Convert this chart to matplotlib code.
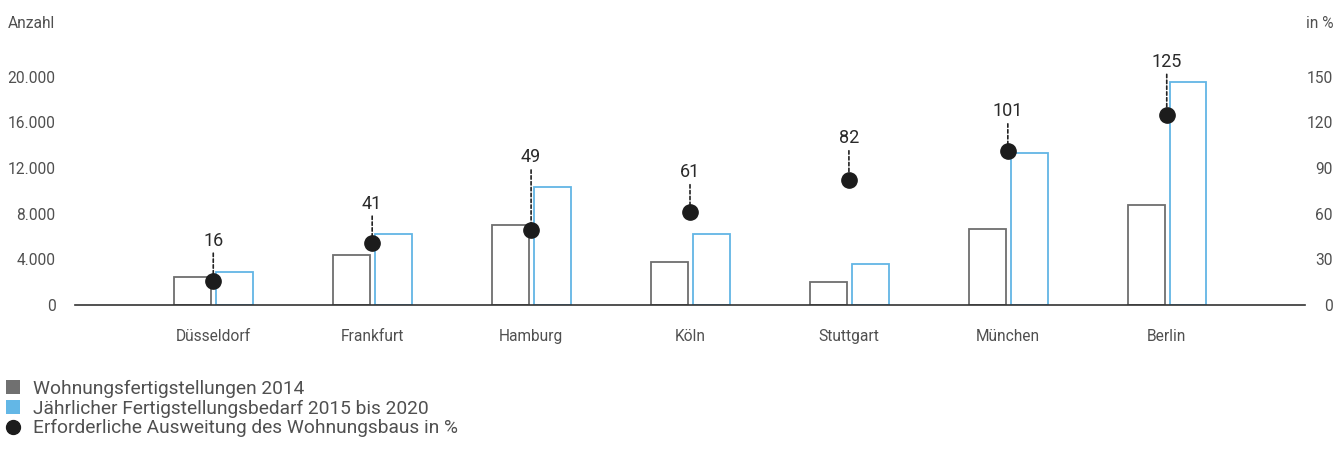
import numpy as np
import matplotlib.pyplot as plt
from matplotlib.lines import Line2D
from matplotlib.patches import Patch

plt.rcParams['font.family'] = ['Roboto', 'DejaVu Sans']

staedte = ['Düsseldorf', 'Frankfurt', 'Hamburg', 'Köln', 'Stuttgart', 'München', 'Berlin']
fertig_2014 = [2450, 4400, 7000, 3800, 2050, 6700, 8800]
bedarf_2015_2020 = [2900, 6200, 10350, 6200, 3550, 13350, 19550]
ausweitung = [16, 41, 49, 61, 82, 101, 125]

# Abstand der Beschriftung über dem Punkt (Pixel)
label_offset = [40, 39, 73, 40, 42, 40, 53]

grau = '#6e6e6e'
blau = '#62b5e5'
text_farbe = '#505050'

fig = plt.figure(figsize=(13.35, 4.59), dpi=100)
ax = fig.add_axes([75 / 1335, 1 - 305 / 459, 1230 / 1335, 251 / 459])

x = np.arange(len(staedte))
breite = 0.232
ax.bar(x - 0.013 - breite / 2, fertig_2014, width=breite, facecolor='white',
       edgecolor=grau, linewidth=1.3)
ax.bar(x + 0.018 + breite / 2, bedarf_2015_2020, width=breite, facecolor='white',
       edgecolor=blau, linewidth=1.3)

ax.set_xlim(-0.87, 6.87)
ax.set_ylim(0, 22000)
ax.set_yticks([0, 4000, 8000, 12000, 16000, 20000])
ax.set_yticklabels(['0', '4.000', '8.000', '12.000', '16.000', '20.000'])
ax.set_xticks(x)
ax.set_xticklabels(staedte)
ax.tick_params(axis='both', length=0, labelsize=11.2, labelcolor=text_farbe)
ax.tick_params(axis='y', pad=14)
ax.tick_params(axis='x', pad=17)
for s in ['top', 'left', 'right']:
    ax.spines[s].set_visible(False)
ax.spines['bottom'].set_color('#333333')
ax.spines['bottom'].set_linewidth(1.2)

ax2 = ax.twinx()
ax2.set_ylim(0, 165)
ax2.set_yticks([0, 30, 60, 90, 120, 150])
ax2.tick_params(axis='y', length=0, labelsize=11.2, labelcolor=text_farbe, pad=20)
for lbl in ax2.get_yticklabels():
    lbl.set_horizontalalignment('right')
for s in ['top', 'left', 'right', 'bottom']:
    ax2.spines[s].set_visible(False)

ax2.plot(x, ausweitung, 'o', color='#1c1c1c', markersize=11, zorder=5)
for xi, wert, off in zip(x, ausweitung, label_offset):
    ax2.annotate(str(wert), xy=(xi, wert), xytext=(0, off * 0.72),
                 textcoords='offset points', ha='center', va='center',
                 fontsize=13, color='#2a2a2a', zorder=6)
    ax2.annotate('', xy=(xi, wert), xytext=(0, off * 0.72 - 9),
                 textcoords='offset points',
                 arrowprops=dict(arrowstyle='-', color='#222222', lw=1.2,
                                 linestyle=(0, (2, 1.5)), shrinkA=0, shrinkB=0))

fig.text(8 / 1335, 1 - 24 / 459, 'Anzahl', fontsize=11.2, color=text_farbe, va='center')
fig.text(1333 / 1335, 1 - 24 / 459, 'in %', fontsize=11.2, color=text_farbe,
         va='center', ha='right')

handles = [Patch(facecolor='#707070', edgecolor='none'),
           Patch(facecolor='#63b7e6', edgecolor='none'),
           Line2D([], [], marker='o', linestyle='none', color='#1c1c1c', markersize=10)]
labels = ['Wohnungsfertigstellungen 2014',
          'Jährlicher Fertigstellungsbedarf 2015 bis 2020',
          'Erforderliche Ausweitung des Wohnungsbaus in %']
leg = fig.legend(handles, labels, loc='upper left', bbox_to_anchor=(0.0, 1 - 374 / 459),
                 frameon=False, fontsize=13.8, handlelength=0.72, handleheight=0.72,
                 handletextpad=0.72, labelspacing=0.09, borderaxespad=0, borderpad=0.3)
for t in leg.get_texts():
    t.set_color(text_farbe)

fig.savefig('out.png', dpi=100)
